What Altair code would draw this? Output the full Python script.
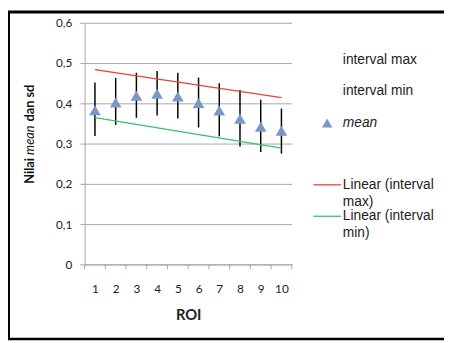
import altair as alt
import pandas as pd

roi = [1, 2, 3, 4, 5, 6, 7, 8, 9, 10]
mean_vals = [0.383, 0.402, 0.419, 0.424, 0.417, 0.401, 0.382, 0.362, 0.342, 0.332]
interval_max = [0.452, 0.463, 0.476, 0.480, 0.476, 0.464, 0.450, 0.433, 0.409, 0.387]
interval_min = [0.319, 0.346, 0.364, 0.370, 0.362, 0.340, 0.318, 0.293, 0.279, 0.275]
y_ticks = [0, 0.1, 0.2, 0.3, 0.4, 0.5, 0.6]
x_ticks = [1, 2, 3, 4, 5, 6, 7, 8, 9, 10]
x_bounds = [0.5, 1.5, 2.5, 3.5, 4.5, 5.5, 6.5, 7.5, 8.5, 9.5, 10.5]

df = pd.DataFrame({"ROI": roi, "mean": mean_vals, "imax": interval_max, "imin": interval_min})
bounds = pd.DataFrame({"ROI": x_bounds})
one = pd.DataFrame({"k": [0]})

LBL = "Lato"
TXT = "Liberation Sans"
GRID = "#a6a6a6"
RED = "#f03c3c"
GREEN = "#3cbf6e"
TRI = "#7b96c8"

x_scale = alt.Scale(domain=[0.5, 10.5], nice=False, zero=False)
x_axis = alt.Axis(
    values=x_ticks,
    format="d",
    labelOverlap=False,
    ticks=False,
    grid=False,
    domainColor=GRID,
    labelPadding=20,
    labelFont=LBL,
    labelFontSize=12,
    labelColor="#222222",
    title="ROI",
    titleFont=LBL,
    titleFontSize=15,
    titleFontWeight="bold",
    titleColor="#222222",
    titlePadding=13,
)
y_scale = alt.Scale(domain=[0, 0.6], nice=False)
y_axis = alt.Axis(
    values=y_ticks,
    labelExpr="datum.value == 0 ? '0' : replace(format(datum.value, '.1f'), '.', ',')",
    grid=True,
    gridColor=GRID,
    domainColor=GRID,
    tickColor=GRID,
    tickSize=5,
    labelPadding=8,
    labelFont=LBL,
    labelFontSize=12,
    labelColor="#222222",
    title=None,
)

X = alt.X("ROI:Q", scale=x_scale, axis=x_axis)
base = alt.Chart(df)

bars = base.mark_rule(color="black", strokeWidth=1.5).encode(
    x=X,
    y=alt.Y("imin:Q", scale=y_scale, axis=y_axis),
    y2="imax:Q",
)
xticks = alt.Chart(bounds).mark_rule(color=GRID, strokeWidth=1).encode(
    x=X,
    y=alt.value(246),
    y2=alt.value(251),
)
pts = base.mark_point(shape="triangle-up", filled=True, size=140, color=TRI, opacity=1).encode(
    x=X, y=alt.Y("mean:Q", scale=y_scale, axis=y_axis)
)
trend_max = base.transform_regression("ROI", "imax").mark_line(color=RED, strokeWidth=1.3).encode(
    x=X, y=alt.Y("imax:Q", scale=y_scale, axis=y_axis)
)
trend_min = base.transform_regression("ROI", "imin").mark_line(color=GREEN, strokeWidth=1.3).encode(
    x=X, y=alt.Y("imin:Q", scale=y_scale, axis=y_axis)
)

def txt(s, x, y, **kw):
    return alt.Chart(one).mark_text(align="left", baseline="middle", **kw).encode(
        x=alt.value(x), y=alt.value(y), text=alt.value(s)
    )

def hline(x1, x2, y, color, w):
    return alt.Chart(one).mark_rule(color=color, strokeWidth=w).encode(
        x=alt.value(x1), x2=alt.value(x2), y=alt.value(y)
    )

LF = 14
legend = [
    txt("interval max", 263, 38, font=TXT, fontSize=LF, color="#222222"),
    txt("interval min", 263, 70, font=TXT, fontSize=LF, color="#222222"),
    alt.Chart(one).mark_point(shape="triangle-up", filled=True, size=110, color=TRI, opacity=1).encode(
        x=alt.value(247), y=alt.value(102)
    ),
    txt("mean", 263, 102, font=TXT, fontSize=LF, fontStyle="italic", color="#222222"),
    hline(233, 261, 165, RED, 1.3),
    txt("Linear (interval", 263, 165, font=TXT, fontSize=LF, color="#222222"),
    txt("max)", 263, 183, font=TXT, fontSize=LF, color="#222222"),
    hline(233, 261, 197, GREEN, 1.3),
    txt("Linear (interval", 263, 197, font=TXT, fontSize=LF, color="#222222"),
    txt("min)", 263, 214, font=TXT, fontSize=LF, color="#222222"),
]

ytitle = [
    txt("Nilai", -56, 164, font=LBL, fontSize=13, fontWeight="bold", angle=270, color="#111111"),
    txt("mean", -56, 134.5, font=LBL, fontSize=13, fontStyle="italic", angle=270, color="#111111"),
    txt("dan sd", -56, 100.5, font=LBL, fontSize=13, fontWeight="bold", angle=270, color="#111111"),
]

borders = [
    alt.Chart(one).mark_rule(color="black", strokeWidth=3).encode(
        x=alt.value(-77.5), y=alt.value(-12), y2=alt.value(322)
    ),
    hline(-79, 366, -11, "black", 3),
    hline(-79, 366, 322, "black", 2.5),
]

chart = alt.layer(
    bars, xticks, trend_max, trend_min, pts, *legend, *ytitle, *borders
).properties(
    width=211,
    height=246,
    autosize=alt.AutoSizeParams(type="none"),
    padding={"left": 78, "top": 12, "right": 155, "bottom": 77},
).configure_view(stroke=None)

chart.save("out.html", embed_options={"renderer": "svg", "actions": False})
